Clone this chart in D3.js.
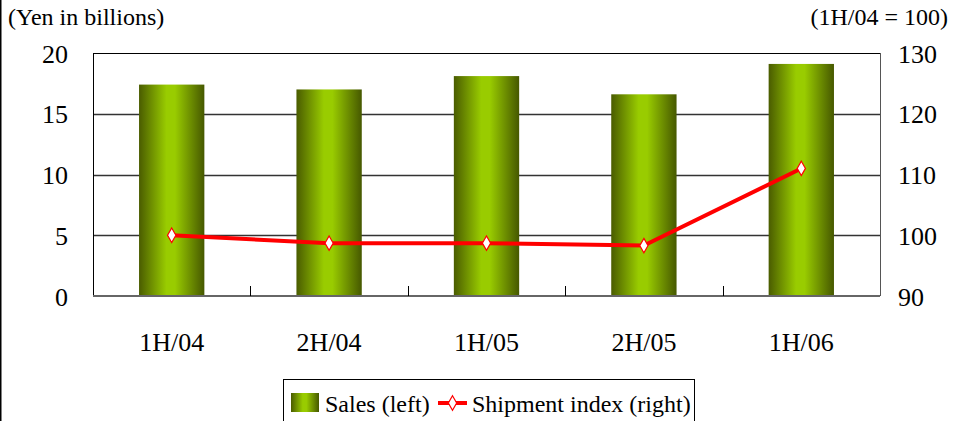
<!DOCTYPE html>
<html>
<head>
<meta charset="utf-8">
<script src="https://cdn.jsdelivr.net/npm/d3@7"></script>
<style>
  body { margin: 0; background: #fff; }
  svg text { font-family: "Liberation Serif", "Times New Roman", serif; fill: #000; }
</style>
</head>
<body>
<div id="chart"></div>
<script>
// data
var periods = ["1H/04", "2H/04", "1H/05", "2H/05", "1H/06"];
var sales = [17.4, 17.0, 18.1, 16.6, 19.1];          // yen in billions, left axis
var shipmentIndex = [100, 98.7, 98.7, 98.3, 111.0];   // 1H/04 = 100, right axis
var leftTicks = [0, 5, 10, 15, 20];
var rightTicks = [90, 100, 110, 120, 130];

var W = 955, H = 421;
var margin = { top: 53, right: 75, bottom: 125, left: 93 };
var width = W - margin.left - margin.right,
    height = H - margin.top - margin.bottom;

var svg = d3.select("#chart").append("svg")
    .attr("width", W)
    .attr("height", H);

// page edge line on the left
svg.append("line")
    .attr("x1", 0.5).attr("x2", 0.5)
    .attr("y1", 0).attr("y2", H)
    .style("stroke", "#000").style("stroke-width", 2);

var defs = svg.append("defs");
var grad = defs.append("linearGradient")
    .attr("id", "barGrad")
    .attr("x1", "0%").attr("x2", "100%")
    .attr("y1", "0%").attr("y2", "0%");
grad.append("stop").attr("offset", "0%").attr("stop-color", "#4a5c00");
grad.append("stop").attr("offset", "42%").attr("stop-color", "#99cc00");
grad.append("stop").attr("offset", "55%").attr("stop-color", "#99cc00");
grad.append("stop").attr("offset", "100%").attr("stop-color", "#465800");

var x = d3.scaleBand()
    .domain(periods)
    .range([0, width])
    .paddingInner(0.585)
    .paddingOuter(0.2925);

var yL = d3.scaleLinear().domain([0, 20]).range([height, 0]);
var yR = d3.scaleLinear().domain([90, 130]).range([height, 0]);

var g = svg.append("g")
    .attr("transform", "translate(" + margin.left + "," + margin.top + ")");

// gridlines
g.selectAll(".grid")
    .data(leftTicks.slice(1, 4))
    .enter().append("line")
    .attr("class", "grid")
    .attr("x1", 0).attr("x2", width)
    .attr("y1", function (d) { return Math.round(yL(d)) + 0.5; })
    .attr("y2", function (d) { return Math.round(yL(d)) + 0.5; })
    .style("stroke", "#333").style("stroke-width", 1.3);

// frame
g.append("line").attr("x1", 0).attr("x2", width).attr("y1", 0.5).attr("y2", 0.5)
    .style("stroke", "#000").style("stroke-width", 1);
g.append("line").attr("x1", width + 0.5).attr("x2", width + 0.5).attr("y1", 0).attr("y2", height)
    .style("stroke", "#555").style("stroke-width", 1);
g.append("line").attr("x1", 0.5).attr("x2", 0.5).attr("y1", 0).attr("y2", height)
    .style("stroke", "#000").style("stroke-width", 1);

// bars
g.selectAll(".bar")
    .data(sales)
    .enter().append("rect")
    .attr("class", "bar")
    .attr("x", function (d, i) { return x(periods[i]); })
    .attr("width", x.bandwidth())
    .attr("y", function (d) { return yL(d); })
    .attr("height", function (d) { return height - yL(d); })
    .style("fill", "url(#barGrad)");

// x baseline and category separators
g.append("line").attr("x1", 0).attr("x2", width).attr("y1", height).attr("y2", height)
    .style("stroke", "#666").style("stroke-width", 2);
g.selectAll(".xtick")
    .data(d3.range(1, periods.length))
    .enter().append("line")
    .attr("class", "xtick")
    .attr("x1", function (i) { return Math.round(i * width / periods.length) + 0.5; })
    .attr("x2", function (i) { return Math.round(i * width / periods.length) + 0.5; })
    .attr("y1", height).attr("y2", height - 10)
    .style("stroke", "#000").style("stroke-width", 1);

// shipment index line
var line = d3.line()
    .x(function (d, i) { return x(periods[i]) + x.bandwidth() / 2; })
    .y(function (d) { return yR(d); });

g.append("path")
    .datum(shipmentIndex)
    .attr("d", line)
    .style("fill", "none")
    .style("stroke", "#ff0000")
    .style("stroke-width", 4);

var diamond = d3.symbol().type(d3.symbolDiamond).size(60);
g.selectAll(".marker")
    .data(shipmentIndex)
    .enter().append("path")
    .attr("class", "marker")
    .attr("d", diamond)
    .attr("transform", function (d, i) {
        return "translate(" + (x(periods[i]) + x.bandwidth() / 2) + "," + yR(d) + ")";
    })
    .style("fill", "#fff")
    .style("stroke", "#ff0000")
    .style("stroke-width", 1.2);

// axes labels
var leftAxis = d3.axisLeft(yL).tickValues(leftTicks).tickSize(0).tickPadding(25);
var gl = g.append("g").call(leftAxis);
gl.select(".domain").remove();
gl.attr("font-family", null).attr("font-size", null);
gl.selectAll("text").style("font-size", "26px").attr("dy", "0.35em");

var rightAxis = d3.axisRight(yR).tickValues(rightTicks).tickSize(0).tickPadding(18);
var gr = g.append("g").attr("transform", "translate(" + width + ",0)").call(rightAxis);
gr.select(".domain").remove();
gr.attr("font-family", null).attr("font-size", null);
gr.selectAll("text").style("font-size", "26px").attr("dy", "0.35em");

var bottomAxis = d3.axisBottom(x).tickSize(0).tickPadding(37);
var gb = g.append("g").attr("transform", "translate(0," + height + ")").call(bottomAxis);
gb.select(".domain").remove();
gb.attr("font-family", null).attr("font-size", null);
gb.selectAll("text").style("font-size", "26px");

// unit captions
svg.append("text")
    .attr("x", 8).attr("y", 25)
    .style("font-size", "24px")
    .text("(Yen in billions)");
svg.append("text")
    .attr("x", 948).attr("y", 25)
    .attr("text-anchor", "end")
    .style("font-size", "24px")
    .text("(1H/04 = 100)");

// legend
var lg = svg.append("g").attr("transform", "translate(283,379)");
lg.append("rect")
    .attr("x", 0.5).attr("y", 0.5)
    .attr("width", 411).attr("height", 60)
    .style("fill", "#fff").style("stroke", "#000").style("stroke-width", 1);
lg.append("rect")
    .attr("x", 8).attr("y", 14)
    .attr("width", 28).attr("height", 19)
    .style("fill", "url(#barGrad)");
lg.append("text")
    .attr("x", 42).attr("y", 33)
    .style("font-size", "24px")
    .text("Sales (left)");
lg.append("line")
    .attr("x1", 155).attr("x2", 184).attr("y1", 24).attr("y2", 24)
    .style("stroke", "#ff0000").style("stroke-width", 4);
lg.append("path")
    .attr("d", diamond)
    .attr("transform", "translate(169.5,24)")
    .style("fill", "#fff").style("stroke", "#ff0000").style("stroke-width", 1.2);
lg.append("text")
    .attr("x", 189).attr("y", 33)
    .style("font-size", "24px")
    .text("Shipment index (right)");
</script>
</body>
</html>
